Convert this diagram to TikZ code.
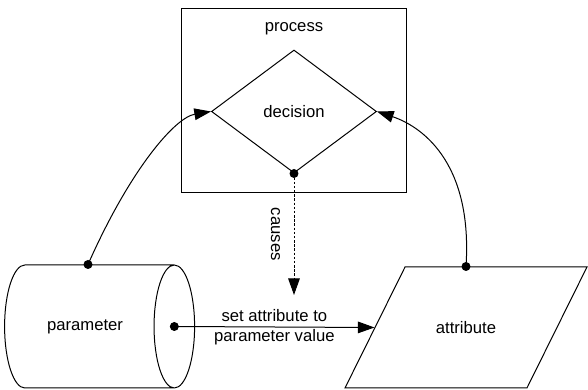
\documentclass[tikz,border=0pt]{standalone}
\usepackage{fontspec}
\setmainfont{Liberation Sans}
\usetikzlibrary{shapes.geometric,arrows.meta,calc}

\begin{document}
\begin{tikzpicture}[x=0.6pt, y=0.6pt, line width=0.6pt,
    font=\fontsize{10}{12}\selectfont,
    arr/.style={-{Triangle[length=10pt,width=7pt]}},
    causedash/.style={dash pattern=on 1.5pt off 1pt},
    dot/.style={fill, radius=2.7pt}]
  \useasboundingbox (0,0) rectangle (588,390);

  \node[draw, minimum width=135.6pt, minimum height=110.4pt,
    label={[anchor=north, inner sep=8pt]north:process}] (proc) at (294, 289) {};
  \node[draw, shape=diamond, aspect=1.34, inner sep=0pt,
    minimum width=99pt, minimum height=73.8pt] (dec) at (294, 278.5) {decision};
  \node[draw, shape=cylinder, aspect=1.6, shape border rotate=0,
    minimum width=73.8pt, minimum height=114pt] (param) at (85, 63.5) {parameter};
  \node[draw, shape=trapezium, trapezium left angle=63.6, trapezium right angle=116.4,
    text height=7pt, text depth=0pt, inner xsep=18.5pt, inner ysep=32.8pt] (attr) at (466, 62.5) {attribute};

  \coordinate (pdot) at ($(param.before top)!0.5!(param.after top)$);
  \coordinate (ptop) at ([xshift=1.8pt]param.north);
  \coordinate (cend) at (294, 95);

  \draw[arr] (ptop) .. controls +(42,95) and +(-36,-6) .. (dec.west);
  \draw[arr] (attr.north) .. controls +(7,107) and +(42,-14) .. (dec.east);
  \draw[arr, causedash] (dec.south) -- (cend)
    node[midway, rotate=-90, anchor=north, inner sep=8pt] {causes};
  \draw[arr] (pdot) -- (attr.left side)
    node[midway, align=center] {set attribute to\\parameter value};

  \fill[dot] (ptop) circle;
  \fill[dot] (attr.north) circle;
  \fill[dot] (dec.south) circle;
  \fill[dot] (pdot) circle;
\end{tikzpicture}
\end{document}
